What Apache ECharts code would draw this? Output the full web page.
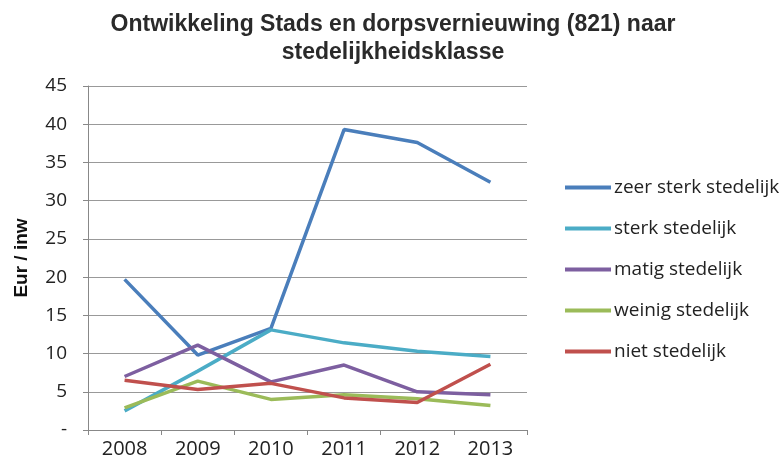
<!DOCTYPE html>
<html>
<head>
    <meta charset="utf-8">
    <title>ECharts</title>
    <script src="https://cdn.jsdelivr.net/npm/echarts@6/dist/echarts.min.js"></script>
</head>
<body style="margin:0">
    <div id="container" style="width:784px;height:459px;"></div>
    <script type="text/javascript">
        var years = ['2008', '2009', '2010', '2011', '2012', '2013'];
        var zeerSterk = [19.7, 9.8, 13.3, 39.3, 37.6, 32.4];
        var sterk = [2.5, 7.7, 13.1, 11.4, 10.3, 9.6];
        var matig = [7.0, 11.1, 6.3, 8.5, 5.0, 4.6];
        var weinig = [2.9, 6.4, 4.0, 4.6, 4.1, 3.2];
        var niet = [6.5, 5.3, 6.1, 4.2, 3.6, 8.6];

        var myChart = echarts.init(document.getElementById('container'));

        function lijn(naam, kleur, data) {
            return {
                name: naam,
                type: 'line',
                data: data,
                symbol: 'none',
                lineStyle: { color: kleur, width: 3.5 },
                itemStyle: { color: kleur }
            };
        }

        var option = {
            backgroundColor: '#fff',
            animation: false,
            title: {
                text: 'Ontwikkeling Stads en dorpsvernieuwing (821) naar\nstedelijkheidsklasse',
                left: 388,
                textAlign: 'center',
                top: 6,
                textStyle: {
                    fontFamily: 'Liberation Sans, sans-serif',
                    fontSize: 23,
                    fontWeight: 'bold',
                    color: '#2a2a2a',
                    lineHeight: 28
                }
            },
            legend: {
                orient: 'vertical',
                left: 560,
                top: 173,
                icon: 'rect',
                itemWidth: 46,
                itemHeight: 4,
                itemGap: 22,
                textStyle: { fontFamily: 'Open Sans', fontSize: 19, color: '#222', padding: [0, 0, 0, -2] },
                data: ['zeer sterk stedelijk', 'sterk stedelijk', 'matig stedelijk', 'weinig stedelijk', 'niet stedelijk']
            },
            grid: { left: 88, right: 257, top: 86, bottom: 28 },
            xAxis: {
                type: 'category',
                data: years,
                boundaryGap: true,
                axisLine: { lineStyle: { color: '#888' } },
                axisTick: { show: true, length: 5, lineStyle: { color: '#888' } },
                axisLabel: { fontFamily: 'Open Sans', fontSize: 20, color: '#222', margin: 9 }
            },
            yAxis: {
                type: 'value',
                min: 0,
                max: 45,
                interval: 5,
                name: 'Eur / inw',
                nameLocation: 'middle',
                nameGap: 57,
                nameTextStyle: { fontFamily: 'Liberation Sans', fontSize: 19, fontWeight: 'bold', color: '#111' },
                axisLine: { show: true, lineStyle: { color: '#888' } },
                axisTick: { show: true, length: 5, lineStyle: { color: '#888' } },
                splitLine: { lineStyle: { color: '#999' } },
                axisLabel: {
                    fontFamily: 'Open Sans', fontSize: 19, color: '#222', margin: 21,
                    formatter: function (v) { return v === 0 ? '-' : v; }
                }
            },
            series: [
                lijn('zeer sterk stedelijk', '#4A7EBB', zeerSterk),
                lijn('sterk stedelijk', '#4BACC6', sterk),
                lijn('matig stedelijk', '#7D5FA0', matig),
                lijn('weinig stedelijk', '#9BBB59', weinig),
                lijn('niet stedelijk', '#C0504D', niet)
            ]
        };

        myChart.setOption(option);
    </script>
</body>
</html>
